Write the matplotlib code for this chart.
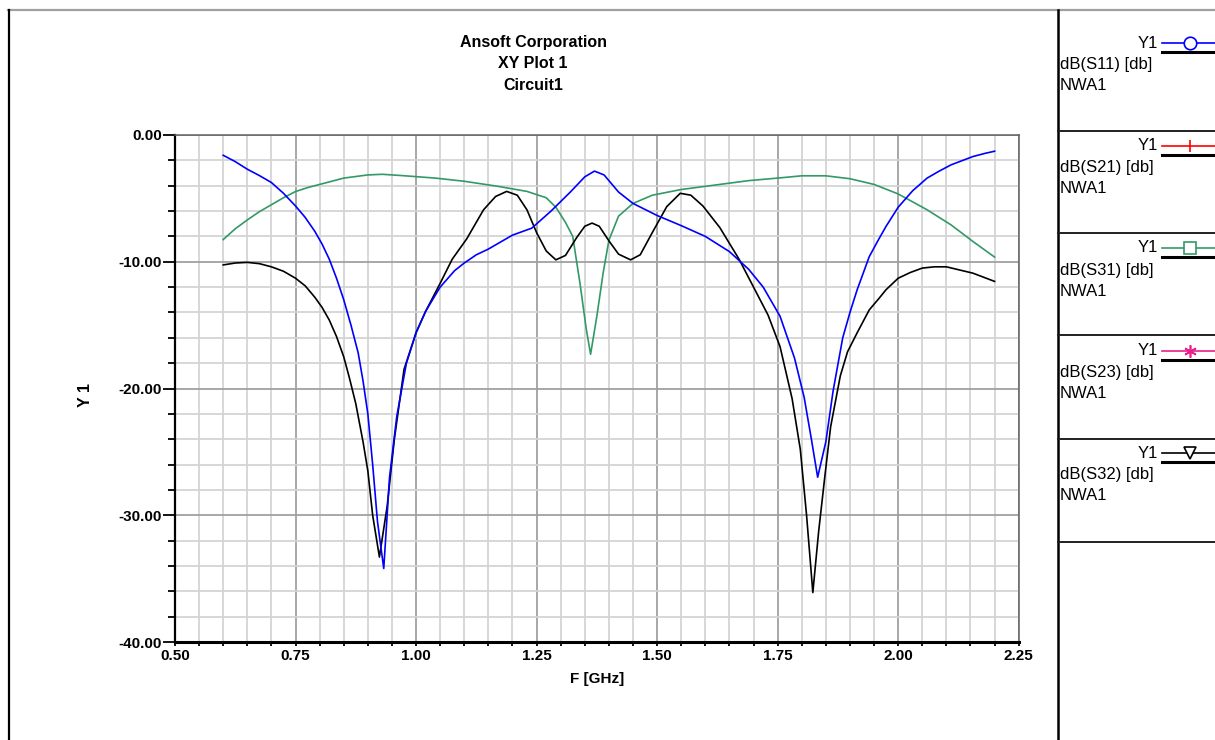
import numpy as np
import matplotlib
matplotlib.use('Agg')
import matplotlib.pyplot as plt

plt.rcParams['font.family'] = ['Liberation Sans', 'DejaVu Sans']

# blue curve, dB(S11)
f_s11 = [0.60, 0.625, 0.65, 0.675, 0.70, 0.725, 0.75, 0.77, 0.79, 0.805, 0.82, 0.835,
         0.85, 0.865, 0.88, 0.89, 0.90, 0.91, 0.92, 0.933, 0.945,
         0.96, 0.98, 1.00, 1.02, 1.05, 1.08, 1.10, 1.125, 1.15, 1.20, 1.24, 1.28,
         1.32, 1.35, 1.37, 1.39, 1.42, 1.45, 1.50, 1.55, 1.60, 1.65, 1.69, 1.72,
         1.755, 1.785, 1.805, 1.82, 1.833, 1.85, 1.865, 1.885, 1.90, 1.915, 1.94,
         1.96, 1.975, 2.00, 2.03, 2.06, 2.085, 2.11, 2.155, 2.18, 2.20]
s11 = [-1.6, -2.1, -2.7, -3.2, -3.75, -4.6, -5.6, -6.5, -7.6, -8.6, -9.8, -11.3,
       -13.0, -15.0, -17.2, -19.4, -22.0, -26.0, -30.5, -34.2, -27.0,
       -22.2, -18.0, -15.6, -13.9, -12.0, -10.7, -10.1, -9.45, -9.0, -7.9, -7.35, -6.0,
       -4.5, -3.3, -2.85, -3.15, -4.5, -5.4, -6.35, -7.15, -8.0, -9.2, -10.6, -12.0,
       -14.3, -17.6, -20.7, -24.0, -27.0, -24.2, -20.2, -16.0, -14.0, -12.2, -9.6,
       -8.2, -7.2, -5.7, -4.4, -3.4, -2.85, -2.35, -1.7, -1.45, -1.28]

# green curve, dB(S31)
f_s31 = [0.60, 0.625, 0.65, 0.675, 0.70, 0.725, 0.75, 0.775, 0.80, 0.85, 0.90, 0.93,
         0.97, 1.04, 1.10, 1.17, 1.23, 1.27, 1.29, 1.31, 1.325, 1.34, 1.353, 1.362,
         1.375, 1.388, 1.40, 1.42, 1.45, 1.49, 1.55, 1.62, 1.69, 1.75, 1.80, 1.85,
         1.90, 1.95, 2.00, 2.06, 2.11, 2.155, 2.20]
s31 = [-8.25, -7.4, -6.7, -6.05, -5.5, -4.95, -4.46, -4.15, -3.9, -3.4, -3.15, -3.1,
       -3.2, -3.4, -3.65, -4.05, -4.45, -4.95, -5.7, -6.9, -8.0, -11.7, -15.3, -17.3,
       -14.3, -10.9, -8.3, -6.4, -5.4, -4.75, -4.3, -3.95, -3.6, -3.4, -3.22, -3.22,
       -3.45, -3.9, -4.65, -5.9, -7.1, -8.4, -9.63]

# black curve, dB(S32)
f_s32 = [0.60, 0.625, 0.65, 0.675, 0.70, 0.725, 0.75, 0.77, 0.79, 0.805, 0.82, 0.835,
         0.85, 0.862, 0.875, 0.89, 0.90, 0.91, 0.924, 0.94,
         0.955, 0.975, 1.00, 1.02, 1.05, 1.075, 1.105, 1.14, 1.165, 1.188, 1.21,
         1.23, 1.25, 1.27, 1.29, 1.31, 1.333, 1.35, 1.365, 1.38, 1.40, 1.42, 1.445,
         1.465, 1.49, 1.52, 1.548, 1.57, 1.595, 1.63, 1.67, 1.70, 1.73, 1.755, 1.78,
         1.797, 1.81, 1.823, 1.835, 1.848, 1.86, 1.88, 1.895, 1.915, 1.94, 1.96, 1.975,
         2.00, 2.025, 2.05, 2.075, 2.10, 2.155, 2.20]
s32 = [-10.25, -10.1, -10.05, -10.15, -10.4, -10.75, -11.3, -11.9, -12.8, -13.6, -14.6,
       -15.9, -17.5, -19.2, -21.2, -24.2, -26.5, -30.0, -33.3, -29.3,
       -24.0, -18.5, -15.6, -13.9, -11.7, -9.8, -8.2, -5.9, -4.85, -4.45, -4.75,
       -5.9, -7.7, -9.15, -9.85, -9.5, -8.1, -7.2, -6.95, -7.2, -8.35, -9.4, -9.85,
       -9.45, -7.7, -5.65, -4.6, -4.75, -5.6, -7.3, -9.8, -12.0, -14.2, -16.7, -20.8,
       -24.8, -30.0, -36.1, -31.3, -26.9, -23.0, -19.0, -17.1, -15.6, -13.8, -12.9, -12.2,
       -11.3, -10.85, -10.5, -10.4, -10.4, -10.9, -11.55]

legend_names = ['dB(S11) [db]', 'dB(S21) [db]', 'dB(S31) [db]', 'dB(S23) [db]', 'dB(S32) [db]']
legend_colors = ['#0000ff', '#ff0000', '#339966', '#e8208c', '#000000']
legend_markers = ['o', '|', 's', (6, 2, 0), 'v']

W, H = 1215, 740
fig = plt.figure(figsize=(W / 100, H / 100), dpi=100)

ax = fig.add_axes([175 / W, 1 - 642 / H, (1018.7 - 175) / W, (642 - 135) / H])
ax.plot(f_s31, s31, color=legend_colors[2], lw=1.2)
ax.plot(f_s32, s32, color=legend_colors[4], lw=1.2)
ax.plot(f_s11, s11, color=legend_colors[0], lw=1.2)

ax.set_xlim(0.5, 2.25)
ax.set_ylim(-40, 0)
xt = np.arange(0.5, 2.26, 0.25)
yt = np.arange(-40, 1, 10)
ax.set_xticks(xt)
ax.set_xticklabels([f'{v:.2f}' for v in xt], fontweight='bold', fontsize=11)
ax.set_yticks(yt)
ax.set_yticklabels([f'{v:.2f}' for v in yt], fontweight='bold', fontsize=11)
ax.set_xticks(np.arange(0.5, 2.26, 0.05), minor=True)
ax.set_yticks(np.arange(-40, 1, 2), minor=True)
ax.grid(which='major', color='#a0a0a0', lw=1.3)
ax.grid(which='minor', color='#d4d4d4', lw=1.3)
ax.set_axisbelow(True)
ax.tick_params(axis='y', which='major', length=8.5, width=1.3, pad=1)
ax.tick_params(axis='y', which='minor', length=5, width=1.3)
ax.tick_params(axis='x', which='both', length=3, width=1.3, pad=2)
ax.spines['left'].set_linewidth(1.6)
ax.spines['bottom'].set_linewidth(2.2)
for s in ['top', 'right']:
    ax.spines[s].set_color('#606060')
    ax.spines[s].set_linewidth(1.1)

# titles and axis labels
for i, t in enumerate(['Ansoft Corporation', 'XY Plot 1', 'Circuit1']):
    fig.text(533 / W, 1 - (43 + 21 * i) / H, t, ha='center', va='center',
             fontsize=11.5, fontweight='bold')
fig.text(85 / W, 1 - 395 / H, 'Y 1', rotation=90, ha='center', va='center',
         fontsize=11.5, fontweight='bold')
fig.text(597 / W, 1 - 679 / H, 'F [GHz]', ha='center', va='center',
         fontsize=11, fontweight='bold')

# window frame and legend panel
deco = fig.add_axes([0, 0, 1, 1])
deco.set_xlim(0, W)
deco.set_ylim(H, 0)
deco.axis('off')
deco.patch.set_alpha(0)
deco.plot([8, W], [10, 10], color='#a0a0a0', lw=1.6)
deco.plot([9, 9], [10, H], color='black', lw=1.6)
deco.plot([1057.5, 1057.5], [10, H], color='black', lw=1.8)
for yd in [131, 233, 335, 439, 542]:
    deco.plot([1057.5, W], [yd, yd], color='#202020', lw=1.4)

for i, name in enumerate(legend_names):
    y0 = 43 + 102.5 * i
    deco.text(1158, y0, 'Y1', ha='right', va='center', fontsize=12)
    deco.text(1060, y0 + 22, name, ha='left', va='center', fontsize=12)
    deco.text(1060, y0 + 43, 'NWA1', ha='left', va='center', fontsize=12)
    deco.plot([1162, W], [y0, y0], color=legend_colors[i], lw=1.2)
    deco.plot([1190], [y0], marker=legend_markers[i], color=legend_colors[i],
              mfc='white', ms=9, mew=1.2)
    deco.plot([1162, W], [y0 + 9, y0 + 9], color='black', lw=2.2)

fig.savefig('out.png', dpi=100)
